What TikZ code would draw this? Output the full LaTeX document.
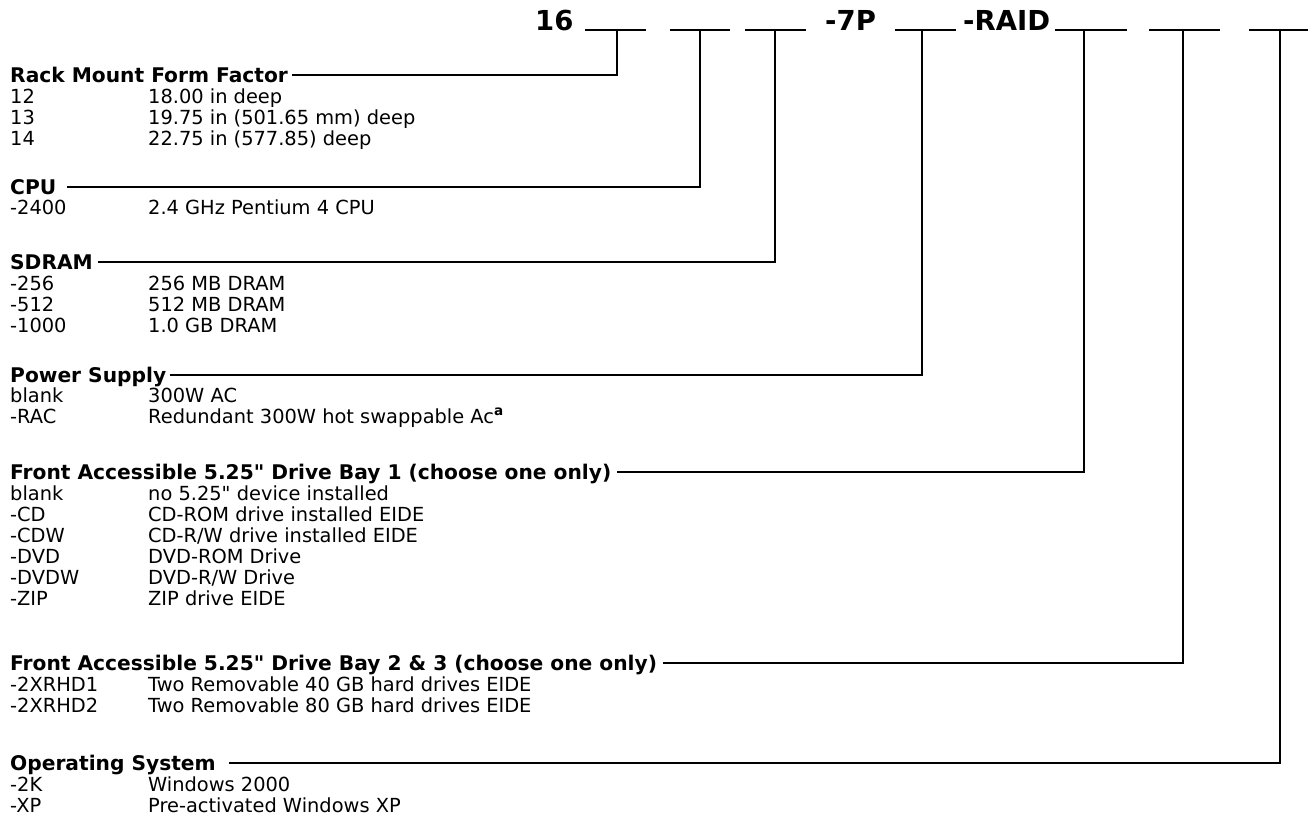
\documentclass[tikz,border=0pt]{standalone}
\usepackage{fontspec}
\setmainfont{DejaVu Sans}[Ligatures=TeXOff]
\begin{document}
\begin{tikzpicture}[x=1pt,y=-1pt,
  conn/.style={line width=1.9pt, line cap=rect},
  uline/.style={line width=1.9pt},
  hdr/.style={inner sep=0pt, anchor=base west, font=\fontsize{27.5}{30}\selectfont\bfseries},
  head/.style={inner sep=0pt, anchor=west, text height=14.6pt, text depth=0pt, font=\fontsize{20.2}{22}\selectfont\bfseries},
  item/.style={inner sep=0pt, anchor=west, text height=14pt, text depth=0pt, font=\fontsize{19.4}{21}\selectfont}]
\useasboundingbox (0,0) rectangle (1308,835);
% header
\node[hdr] (t16) at (535,30) {16};
\node[hdr] (t7p) at (825,30) {-7P};
\node[hdr] (traid) at (963,30) {-RAID};
\draw[uline] (585,30) -- (646,30);
\draw[uline] (670,30) -- (730,30);
\draw[uline] (745,30) -- (806,30);
\draw[uline] (895,30) -- (956,30);
\draw[uline] (1055,30) -- (1127,30);
\draw[uline] (1149,30) -- (1220,30);
\draw[uline] (1249,30) -- (1308,30);
\coordinate (b1) at (617,30);
\coordinate (b2) at (700,30);
\coordinate (b3) at (775,30);
\coordinate (b4) at (922,30);
\coordinate (b5) at (1084,30);
\coordinate (b6) at (1183,30);
\coordinate (b7) at (1280,30);
% headings
\node[head] (h1) at (10,75) {Rack Mount Form Factor};
\node[head] (h2) at (10,187) {CPU};
\node[head] (h3) at (10,262) {SDRAM};
\node[head] (h4) at (10,375) {Power Supply};
\node[head] (h5) at (10,472) {Front Accessible 5.25" Drive Bay 1 (choose one only)};
\node[head] (h6) at (10,663) {Front Accessible 5.25" Drive Bay 2 \& 3 (choose one only)};
\node[head] (h7) at (10,763) {Operating System};
\draw[conn] ([xshift=5pt]h1.east) -| (b1);
\draw[conn] ([xshift=12pt]h2.east) -| (b2);
\draw[conn] ([xshift=6pt]h3.east) -| (b3);
\draw[conn] ([xshift=5pt]h4.east) -| (b4);
\draw[conn] ([xshift=6pt]h5.east) -| (b5);
\draw[conn] ([xshift=7pt]h6.east) -| (b6);
\draw[conn] ([xshift=14pt]h7.east) -| (b7);
% items
\node[item] (k11) at (10,96) {12};   \node[item] (v11) at (148,96) {18.00 in deep};
\node[item] (k12) at (10,117) {13};  \node[item] (v12) at (148,117) {19.75 in (501.65 mm) deep};
\node[item] (k13) at (10,138) {14};  \node[item] (v13) at (148,138) {22.75 in (577.85) deep};
\node[item] (k21) at (10,207) {-2400}; \node[item] (v21) at (148,207) {2.4 GHz Pentium 4 CPU};
\node[item] (k31) at (10,283) {-256};  \node[item] (v31) at (148,283) {256 MB DRAM};
\node[item] (k32) at (10,304) {-512};  \node[item] (v32) at (148,304) {512 MB DRAM};
\node[item] (k33) at (10,325) {-1000}; \node[item] (v33) at (148,325) {1.0 GB DRAM};
\node[item] (k41) at (10,395) {blank}; \node[item] (v41) at (148,395) {300W AC};
\node[item] (k42) at (10,416) {-RAC};  \node[item] (v42) at (148,416) {Redundant 300W hot swappable Ac\textsuperscript{\bfseries a}};
\node[item] (k51) at (10,493) {blank}; \node[item] (v51) at (148,493) {no 5.25" device installed};
\node[item] (k52) at (10,514) {-CD};   \node[item] (v52) at (148,514) {CD-ROM drive installed EIDE};
\node[item] (k53) at (10,535) {-CDW};  \node[item] (v53) at (148,535) {CD-R/W drive installed EIDE};
\node[item] (k54) at (10,556) {-DVD};  \node[item] (v54) at (148,556) {DVD-ROM Drive};
\node[item] (k55) at (10,577) {-DVDW}; \node[item] (v55) at (148,577) {DVD-R/W Drive};
\node[item] (k56) at (10,598) {-ZIP};  \node[item] (v56) at (148,598) {ZIP drive EIDE};
\node[item] (k61) at (10,684) {-2XRHD1}; \node[item] (v61) at (148,684) {Two Removable 40 GB hard drives EIDE};
\node[item] (k62) at (10,705) {-2XRHD2}; \node[item] (v62) at (148,705) {Two Removable 80 GB hard drives EIDE};
\node[item] (k71) at (10,784) {-2K};   \node[item] (v71) at (148,784) {Windows 2000};
\node[item] (k72) at (10,805) {-XP};   \node[item] (v72) at (148,805) {Pre-activated Windows XP};
\end{tikzpicture}
\end{document}
